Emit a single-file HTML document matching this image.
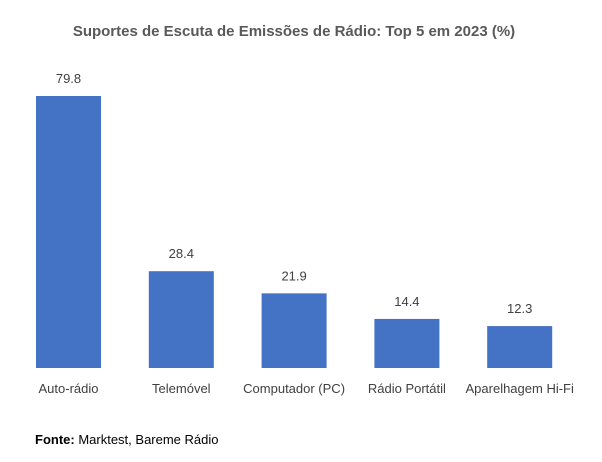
<!DOCTYPE html>
<html><head><meta charset="utf-8"><style>
body{margin:0;background:#fff;font-family:"Liberation Sans",sans-serif;}
svg text{font-family:"Liberation Sans",sans-serif;}
</style></head><body>
<svg width="602" height="457">
<rect width="602" height="457" fill="#fff"/>
<text x="294" y="36" text-anchor="middle" font-size="15" font-weight="bold" fill="#595959">Suportes de Escuta de Emissões de Rádio: Top 5 em 2023 (%)</text>
<g id="bars"></g>
<text x="35" y="444" font-size="13" fill="#000"><tspan font-weight="bold">Fonte:</tspan> Marktest, Bareme Rádio</text>
</svg>
<script>
const categories=["Auto-rádio","Telemóvel","Computador (PC)","Rádio Portátil","Aparelhagem Hi-Fi"];
const values=[79.8,28.4,21.9,14.4,12.3];
const labels=["79.8","28.4","21.9","14.4","12.3"];
const ns="http://www.w3.org/2000/svg";
const g=document.getElementById("bars");
const baseY=368,scale=272/79.8,x0=68.5,step=112.8,bw=65;
const y=v=>baseY-v*scale, x=i=>x0+i*step;
values.forEach((v,i)=>{
 const r=document.createElementNS(ns,"rect");
 
 
 r.setAttribute("x",x(i)-bw/2);r.setAttribute("y",y(v));r.setAttribute("width",bw);r.setAttribute("height",v*scale);r.setAttribute("fill","#4472C4");
 g.appendChild(r);
 const t=document.createElementNS(ns,"text");
 
 
 t.setAttribute("x",x(i));t.setAttribute("y",y(v)-13);t.setAttribute("text-anchor","middle");t.setAttribute("font-size","13");t.setAttribute("fill","#404040");
 t.textContent=labels[i];g.appendChild(t);
 const c=document.createElementNS(ns,"text");
 
 
 c.setAttribute("x",x(i));c.setAttribute("y",393);c.setAttribute("text-anchor","middle");c.setAttribute("font-size","13");c.setAttribute("fill","#404040");
 c.textContent=categories[i];g.appendChild(c);
});
</script>
</body></html>
